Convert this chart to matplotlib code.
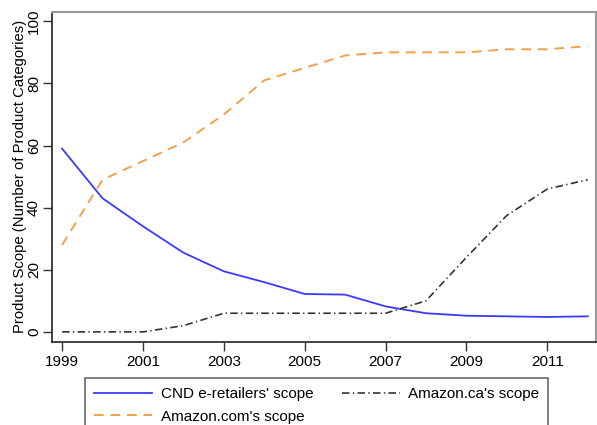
import matplotlib
matplotlib.use("Agg")
import matplotlib.pyplot as plt

years = [1999, 2000, 2001, 2002, 2003, 2004, 2005, 2006, 2007, 2008, 2009, 2010, 2011, 2012]
cnd_scope = [59, 43, 34, 25.5, 19.5, 16, 12.2, 12, 8.2, 6, 5.2, 5, 4.8, 5]
amazon_com = [28, 49, 55, 61, 70, 81, 85, 89, 90, 90, 90, 91, 91, 92]
amazon_ca = [0, 0, 0, 2, 6, 6, 6, 6, 6, 10, 24, 37.5, 46, 49]
xticks = [1999, 2001, 2003, 2005, 2007, 2009, 2011]
yticks = [0, 20, 40, 60, 80, 100]

plt.rcParams['font.family'] = ['Liberation Sans', 'DejaVu Sans']

fig = plt.figure(figsize=(5.97, 4.25), dpi=100)
ax = fig.add_axes([52/597, 1 - 341.5/425, (597 - 52)/597 - 0.002, (341.5 - 12)/425])

l1, = ax.plot(years, cnd_scope, color='#3a3aff', lw=1.3, label="CND e-retailers' scope")
l2, = ax.plot(years, amazon_com, color='#f5a04a', lw=1.4, linestyle=(0, (5, 3.5)), label="Amazon.com's scope")
l3, = ax.plot(years, amazon_ca, color='#333333', lw=1.2, linestyle=(0, (4.5, 2, 0.8, 2)), label="Amazon.ca's scope")

ax.set_xlim(1998.75, 2012.2)
ax.set_ylim(-3.1, 103)
ax.set_xticks(xticks)
ax.set_xticklabels([str(x) for x in xticks], fontsize=11)
ax.set_yticks(yticks)
ax.set_yticklabels([str(y) for y in yticks], fontsize=11, rotation=90, va='center')
ax.tick_params(direction='out', length=6.5, width=1, color='#333333')
ax.tick_params(axis='y', pad=1.5)
ax.tick_params(axis='x', pad=3.5)
ax.set_ylabel('Product Scope (Number of Product Categories)', fontsize=10.7, labelpad=0)

for s in ['left', 'bottom']:
    ax.spines[s].set_color('#222222')
    ax.spines[s].set_linewidth(1.2)
for s in ['top', 'right']:
    ax.spines[s].set_color('#999999')
    ax.spines[s].set_linewidth(1.5)

leg = fig.legend(handles=[l1, l2, l3], loc='upper left', bbox_to_anchor=(85/597, 1 - 378/425),
                 ncol=2, fontsize=11, frameon=True, fancybox=False, handlelength=3.8,
                 columnspacing=1.85, borderpad=0.6, labelspacing=0.55, handletextpad=0.55,
                 borderaxespad=0)
leg.get_frame().set_edgecolor('#444444')
leg.get_frame().set_linewidth(1.2)

fig.savefig('out.png', dpi=100)
